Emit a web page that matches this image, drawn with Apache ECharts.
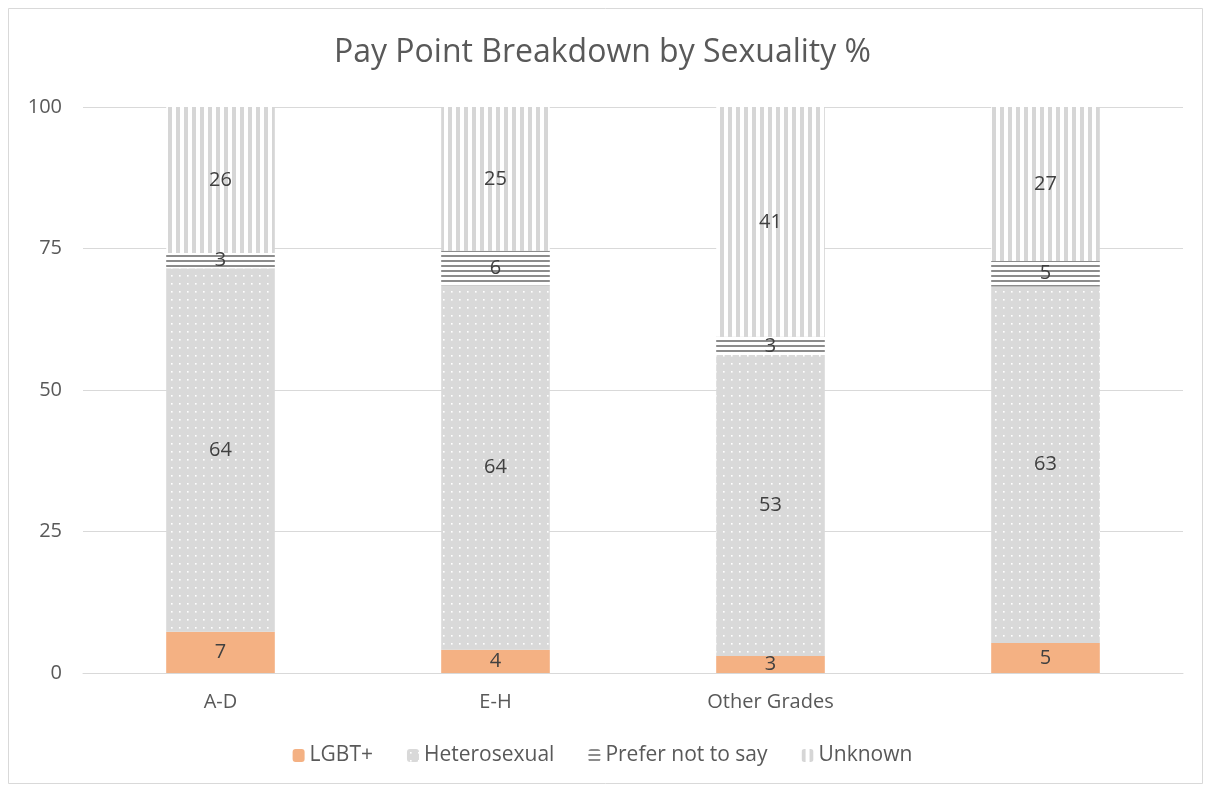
<!DOCTYPE html>
<html><head><meta charset="utf-8">
<script src="https://cdn.jsdelivr.net/npm/echarts@6/dist/echarts.min.js"></script>
<style>html,body{margin:0;padding:0;background:#fff}#c{width:1205px;height:789px}</style>
</head><body><div id="c"></div>
<script>
const categories = ['A-D', 'E-H', 'Other Grades', ''];
const lgbt = [7.3, 4.1, 3.0, 5.3];
const heterosexual = [64.2, 64.4, 53.2, 63.0];
const preferNot = [2.7, 6.1, 3.2, 4.5];
const unknown = [25.8, 25.4, 40.6, 27.2];
const yTicks = [0, 25, 50, 75, 100];

function tile(w, h, draw) {
  const c = document.createElement('canvas');
  c.width = w; c.height = h;
  draw(c.getContext('2d'));
  return c;
}
const dotTile = tile(8, 8, g => {
  g.fillStyle = '#d9d9d9'; g.fillRect(0, 0, 8, 8);
  g.fillStyle = '#ffffff'; g.fillRect(3, 3, 1.6, 1.6);
});
const vTile = tile(8, 8, g => {
  g.fillStyle = '#ffffff'; g.fillRect(0, 0, 8, 8);
  g.fillStyle = '#d6d6d6'; g.fillRect(0, 0, 4, 8);
});
const hTile = tile(6, 5, g => {
  g.fillStyle = '#ffffff'; g.fillRect(0, 0, 6, 5);
  g.fillStyle = '#8c8c8c'; g.fillRect(0, 0, 6, 2);
});

const font = '"Open Sans", "Noto Sans", sans-serif';
const lbl = { show: true, position: 'inside', color: '#404040', fontSize: 20, fontFamily: font,
  formatter: p => Math.round(p.value) };

const chart = echarts.init(document.getElementById('c'), null, { renderer: 'canvas' });
chart.setOption({
  animation: false,
  backgroundColor: '#fff',
  title: { text: 'Pay Point Breakdown by Sexuality %', left: 'center', top: 32,
    textStyle: { color: '#595959', fontSize: 32, fontWeight: 'normal', fontFamily: font } },
  graphic: [{ type: 'rect', shape: { x: 8.5, y: 8.5, width: 1194, height: 775 },
    style: { fill: 'none', stroke: '#d9d9d9', lineWidth: 1 }, silent: true }],
  legend: { bottom: 18, left: 'center', itemWidth: 12, itemHeight: 13, itemGap: 34,
    textStyle: { color: '#595959', fontSize: 21, fontFamily: font },
    data: ['LGBT+', 'Heterosexual', 'Prefer not to say', 'Unknown'] },
  grid: { left: 83, right: 22, top: 107, bottom: 116, containLabel: false },
  xAxis: { type: 'category', data: categories,
    axisLine: { lineStyle: { color: '#d9d9d9' } }, axisTick: { show: false },
    axisLabel: { color: '#595959', fontSize: 20, fontFamily: font, margin: 19 } },
  yAxis: { type: 'value', min: 0, max: 100, interval: 25,
    axisLine: { show: false }, axisTick: { show: false },
    splitLine: { lineStyle: { color: '#d9d9d9' } },
    axisLabel: { color: '#595959', fontSize: 20, fontFamily: font, margin: 21,
      formatter: v => yTicks.includes(v) ? String(v) : '' } },
  series: [
    { name: 'LGBT+', type: 'bar', stack: 's', data: lgbt, barWidth: '39.5%',
      itemStyle: { color: '#f4b183' }, label: lbl },
    { name: 'Heterosexual', type: 'bar', stack: 's', data: heterosexual,
      itemStyle: { color: { image: dotTile, repeat: 'repeat' } }, label: lbl },
    { name: 'Prefer not to say', type: 'bar', stack: 's', data: preferNot,
      itemStyle: { color: { image: hTile, repeat: 'repeat' } }, label: lbl },
    { name: 'Unknown', type: 'bar', stack: 's', data: unknown,
      itemStyle: { color: { image: vTile, repeat: 'repeat' } }, label: lbl }
  ]
});
</script></body></html>
